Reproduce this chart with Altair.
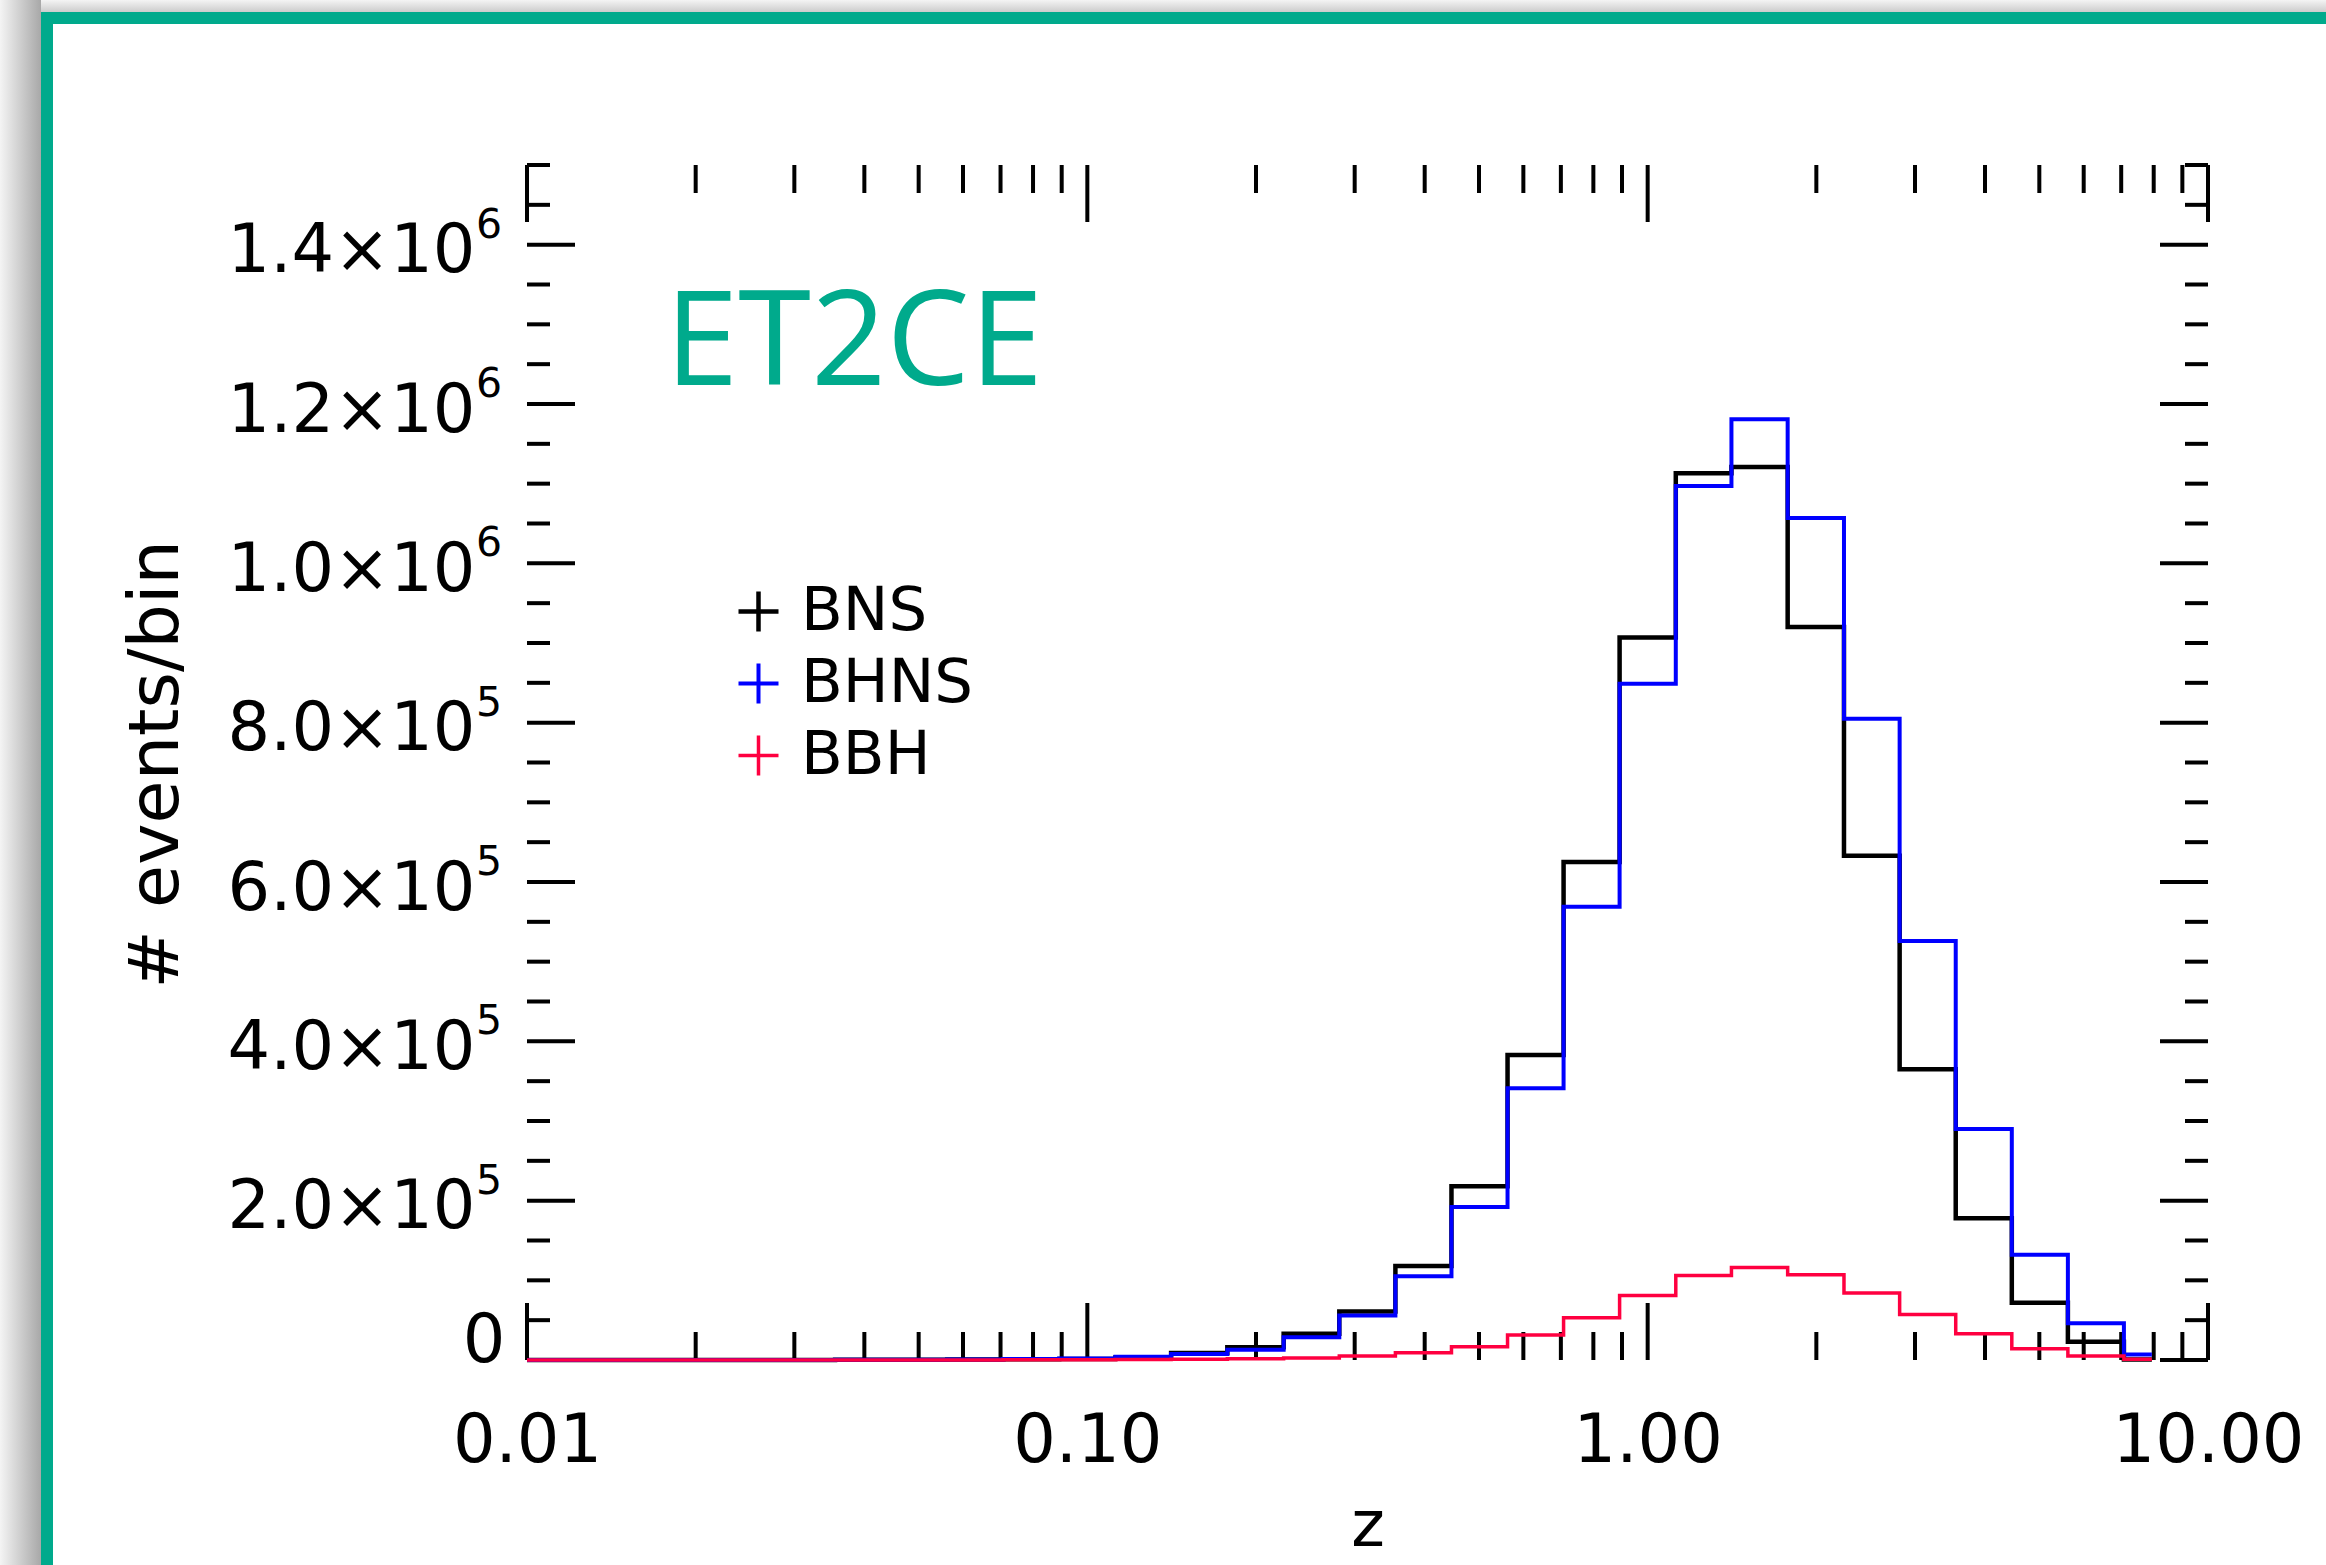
import altair as alt
import pandas as pd

# ---- data ----
z_centers = [0.0100, 0.0126, 0.0158, 0.0200, 0.0251, 0.0316, 0.0398, 0.0501, 0.0631, 0.0794,
             0.100, 0.126, 0.158, 0.200, 0.251, 0.316, 0.398, 0.501, 0.631, 0.794,
             1.00, 1.26, 1.58, 2.00, 2.51, 3.16, 3.98, 5.01, 6.31, 7.94]

bns = [0, 0, 0, 0, 50, 100, 180, 300, 500, 800,
       1300, 3000, 8800, 16000, 33000, 61000, 118000, 218000, 383000, 625000,
       907000, 1113000, 1121000, 920000, 633000, 365000, 178000, 72000, 23000, 500]

bhns = [0, 0, 10, 30, 80, 150, 280, 450, 700, 1100,
        1800, 4000, 7500, 13000, 28500, 56000, 105000, 192000, 341000, 569000,
        849000, 1097000, 1181000, 1057000, 805000, 526000, 290000, 132000, 46000, 7000]

bbh = [0, 0, 0, 10, 20, 40, 60, 100, 150, 220,
       320, 500, 1000, 1500, 2500, 5000, 9000, 16500, 31500, 53000,
       81000, 106000, 116000, 107000, 84000, 57000, 33000, 14000, 5000, 1000]

series_names = ["BNS", "BHNS", "BBH"]
series_colors = ["#000000", "#0000ff", "#ff0040"]
series_widths = [4.5, 3.5, 4]

x_major = [0.01, 0.1, 1, 10]
x_minor = [m * 10.0 ** e for e in (-2, -1, 0) for m in range(2, 10)]
y_major = [0, 200000, 400000, 600000, 800000, 1000000, 1200000, 1400000]
y_minor = [k * 50000 for k in range(1, 31) if (k * 50000) % 200000 != 0]
y_exponent = ["", "5", "5", "5", "5", "6", "6", "6"]

TEAL = "#00aa8c"
W, H = 1681, 1195
FONT = "DejaVu Sans"

rows = []
for name, vals in zip(series_names, [bns, bhns, bbh]):
    for z, v in zip(z_centers, vals):
        rows.append({"z": z, "n": v, "type": name})
df = pd.DataFrame(rows)

xscale = alt.Scale(type="log", domain=[0.01, 10], nice=False)
yscale = alt.Scale(domain=[0, 1500000], nice=False, zero=False)

label_expr = ("datum.value == 0 ? '0' : datum.value >= 1000000 ? "
              "format(datum.value/1000000, '.1f') + '×10' : "
              "format(datum.value/100000, '.1f') + '×10'")

is_zero = "datum.value == 0"

x_axis = alt.Axis(values=x_major, format=".2f", ticks=False, domain=False, grid=False,
                  labelFont=FONT, labelFontSize=67, labelPadding=48, labelBaseline="top",
                  labelFlush=False, labelOverlap=False, labelColor="black", labelLimit=0,
                  title="z", titleFont=FONT, titleFontSize=64, titleFontWeight="normal",
                  titleColor="black", titleY=185, titleBaseline="alphabetic", zindex=1)

y_axis = alt.Axis(values=y_major, labelExpr=label_expr, ticks=False, domain=False, grid=False,
                  labelFont=FONT, labelFontSize=67, labelLimit=0,
                  labelColor="black", labelOverlap=False,
                  labelPadding={"condition": {"test": is_zero, "value": 22}, "value": 52},
                  labelBaseline={"condition": {"test": is_zero, "value": "alphabetic"},
                                 "value": "middle"},
                  labelOffset={"condition": {"test": is_zero, "value": 1}, "value": 7},
                  title="# events/bin", titleFont=FONT, titleFontSize=70,
                  titleFontWeight="normal", titleColor="black", titleAngle=270,
                  titleX=-350, titleY=599, titleBaseline="alphabetic", titleAlign="center",
                  zindex=1)

one = pd.DataFrame({"a": [0]})

# ---- decorations: shadow, teal frame ----
shadow_left = alt.Chart(one).mark_rect(
    fill=alt.LinearGradient(gradient="linear",
                            stops=[alt.GradientStop(color="#f4f4f4", offset=0),
                                   alt.GradientStop(color="#a8a8a8", offset=1)],
                            x1=0, x2=1, y1=0, y2=0)
).encode(x=alt.value(-527), x2=alt.value(-486), y=alt.value(-165), y2=alt.value(1400))

shadow_top = alt.Chart(one).mark_rect(
    fill=alt.LinearGradient(gradient="linear",
                            stops=[alt.GradientStop(color="#f4f4f4", offset=0),
                                   alt.GradientStop(color="#cccccc", offset=1)],
                            x1=0, x2=0, y1=0, y2=1)
).encode(x=alt.value(-486), x2=alt.value(1899), y=alt.value(-165), y2=alt.value(-153))

frame = alt.Chart(one).mark_rect(fill="white", stroke=TEAL, strokeWidth=12).encode(
    x=alt.value(-480), x2=alt.value(1899), y=alt.value(-147), y2=alt.value(1500))

title_txt = alt.Chart(one).mark_text(
    text="ET2CE", font="Open Sans", fontSize=132, color=TEAL, align="left", baseline="alphabetic"
).encode(x=alt.value(138), y=alt.value(220))

# ---- superscript exponents of the y tick labels ----
sup_df = pd.DataFrame({"t": y_major, "e": y_exponent})
superscripts = alt.Chart(sup_df).mark_text(
    font=FONT, fontSize=41, align="right", baseline="alphabetic", dy=-7, color="black"
).encode(y=alt.Y("t:Q", scale=yscale, axis=y_axis), x=alt.value(-25), text="e:N")

# ---- inward ticks ----
def xticks(vals, length):
    d = pd.DataFrame({"t": vals})
    base = alt.Chart(d).mark_rule(color="black", strokeWidth=4)
    bot = base.encode(x=alt.X("t:Q", scale=xscale, axis=x_axis), y=alt.value(H), y2=alt.value(H - length))
    top = base.encode(x=alt.X("t:Q", scale=xscale, axis=x_axis), y=alt.value(0), y2=alt.value(length))
    return [bot, top]

def yticks(vals, length):
    d = pd.DataFrame({"t": vals})
    base = alt.Chart(d).mark_rule(color="black", strokeWidth=4)
    left = base.encode(y=alt.Y("t:Q", scale=yscale, axis=y_axis), x=alt.value(0), x2=alt.value(length))
    right = base.encode(y=alt.Y("t:Q", scale=yscale, axis=y_axis), x=alt.value(W), x2=alt.value(W - length))
    return [left, right]

ticks = xticks(x_major, 57) + xticks(x_minor, 28) + yticks(y_major, 48) + yticks(y_minor, 23)

lines = alt.Chart(df).mark_line(interpolate="step").encode(
    x=alt.X("z:Q", scale=xscale, axis=x_axis),
    y=alt.Y("n:Q", scale=yscale, axis=y_axis),
    color=alt.Color("type:N", sort=series_names,
                    scale=alt.Scale(domain=series_names, range=series_colors),
                    legend=alt.Legend(title=None, orient="none", legendX=201, legendY=416,
                                      symbolType="M-1,0H1M0,-1V1", symbolSize=1600,
                                      symbolStrokeWidth=3, labelFont=FONT, labelFontSize=61,
                                      labelOffset=12, rowPadding=10, padding=0, labelLimit=0,
                                      labelColor="black")),
    strokeWidth=alt.StrokeWidth("type:N", scale=alt.Scale(domain=series_names, range=series_widths),
                                legend=None),
    order=alt.Order("z:Q"),
)

chart = alt.layer(shadow_left, shadow_top, frame, title_txt, superscripts, *ticks, lines).properties(
    width=W, height=H,
    autosize=alt.AutoSizeParams(type="none"),
    padding={"left": 527, "top": 165, "right": 118, "bottom": 205},
    background="#eeeeee",
).configure_view(stroke="black", strokeWidth=5)

chart.save("out.html", embed_options={"renderer": "svg", "actions": False})
